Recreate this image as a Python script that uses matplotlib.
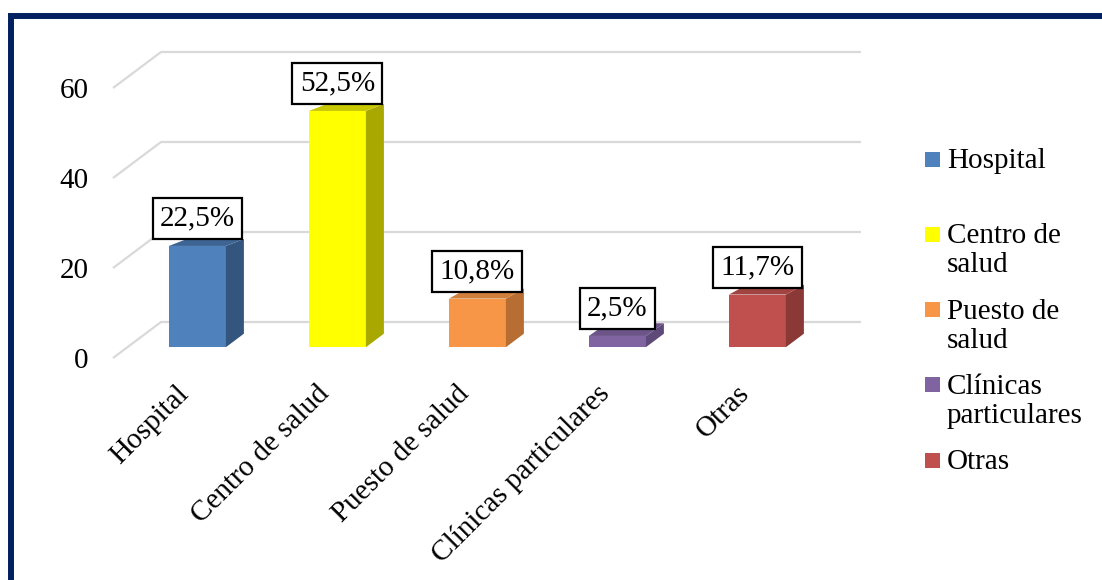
import matplotlib.pyplot as plt
from matplotlib.patches import Polygon, Rectangle

# data
categories = ["Hospital", "Centro de salud", "Puesto de salud", "Clínicas particulares", "Otras"]
legend_labels = ["Hospital", "Centro de\nsalud", "Puesto de\nsalud", "Clínicas\nparticulares", "Otras"]
values = [22.5, 52.5, 10.8, 2.5, 11.7]
yticks = [0, 20, 40, 60]

front_colors = ["#4F81BD", "#FFFF00", "#F79646", "#8064A2", "#C0504D"]
side_colors = ["#34557E", "#A8A800", "#B86E32", "#5E4A78", "#8A3937"]
top_colors = ["#3E6494", "#C8C800", "#D0803C", "#6C5489", "#A04341"]

W, H = 1102, 580
plt.rcParams['font.family'] = ['Liberation Serif', 'DejaVu Serif']
plt.rcParams['font.size'] = 21


def fx(px):
    return px / W


def fy(py):
    return 1 - py / H


def draw_chart():
    fig = plt.figure(figsize=(W / 100, H / 100), dpi=100)
    ax = fig.add_axes([0, 0, 1, 1])
    ax.axis('off')

    # front plane: 140 px per category, 4.5 px per unit
    cx0, cy0, sx, sy = 183, 358, 140, 4.5
    ax.set_xlim(-cx0 / sx, (W - cx0) / sx)
    ax.set_ylim(-(H - cy0) / sy, cy0 / sy)

    DX, DY = 48 / sx, 36 / sy   # full depth offset
    n = len(categories)
    left, right = -0.5, n - 0.5

    # gridlines on floor/back wall
    for t in yticks:
        ax.plot([left, left + DX, right + DX], [t, t + DY, t + DY],
                color="#D9D9D9", lw=1.6, zorder=1, solid_capstyle='butt')
        ax.text(left - 0.175, t, str(t), ha='right', va='center_baseline')

    # 3d bars
    d0, dd = 0.3, 0.375
    bw = 57 / sx
    sdx, brise = dd * DX, dd * DY
    for i, v in enumerate(values):
        xc = i + d0 * DX
        xl, xr = xc - bw / 2, xc + bw / 2
        yb = d0 * DY
        yt = yb + v
        trise = brise - (brise - 1.55) * min(v / 20, 1)
        ax.add_patch(Polygon([(xl, yb), (xr, yb), (xr, yt), (xl, yt)],
                             closed=True, fc=front_colors[i], ec='none', zorder=3))
        ax.add_patch(Polygon([(xr, yb), (xr + sdx, yb + brise), (xr + sdx, yt + trise), (xr, yt)],
                             closed=True, fc=side_colors[i], ec='none', zorder=3))
        ax.add_patch(Polygon([(xl, yt), (xr, yt), (xr + sdx, yt + trise), (xl + sdx, yt + trise)],
                             closed=True, fc=top_colors[i], ec='none', zorder=3))
        lbl = f"{v:.1f}%".replace('.', ',')
        ax.text(xc, yt + 1.55 + 1.6, lbl, ha='center', va='bottom', zorder=5,
                bbox=dict(boxstyle='square,pad=0.25', fc='white', ec='black', lw=1.6))
        ax.text(i - 0.05, -5, categories[i], rotation=45, rotation_mode='anchor',
                ha='right', va='top')

    # legend
    for i, lab in enumerate(legend_labels):
        yc = 159 + 75.3 * i
        fig.add_artist(Rectangle((fx(925), fy(yc + 7.5)), 15 / W, 15 / H,
                                 transform=fig.transFigure, fc=front_colors[i], ec='none'))
        fig.text(fx(947), fy(yc - 11), lab, ha='left', va='top', linespacing=1.15)

    # dark blue frame (cropped on right and bottom)
    fig.add_artist(Rectangle((fx(10.5), -0.5), 2, fy(16) + 0.5, transform=fig.transFigure,
                             fill=False, ec="#002060", lw=4.3, clip_on=False))

    fig.savefig("out.png", dpi=100)


if __name__ == "__main__":
    draw_chart()
